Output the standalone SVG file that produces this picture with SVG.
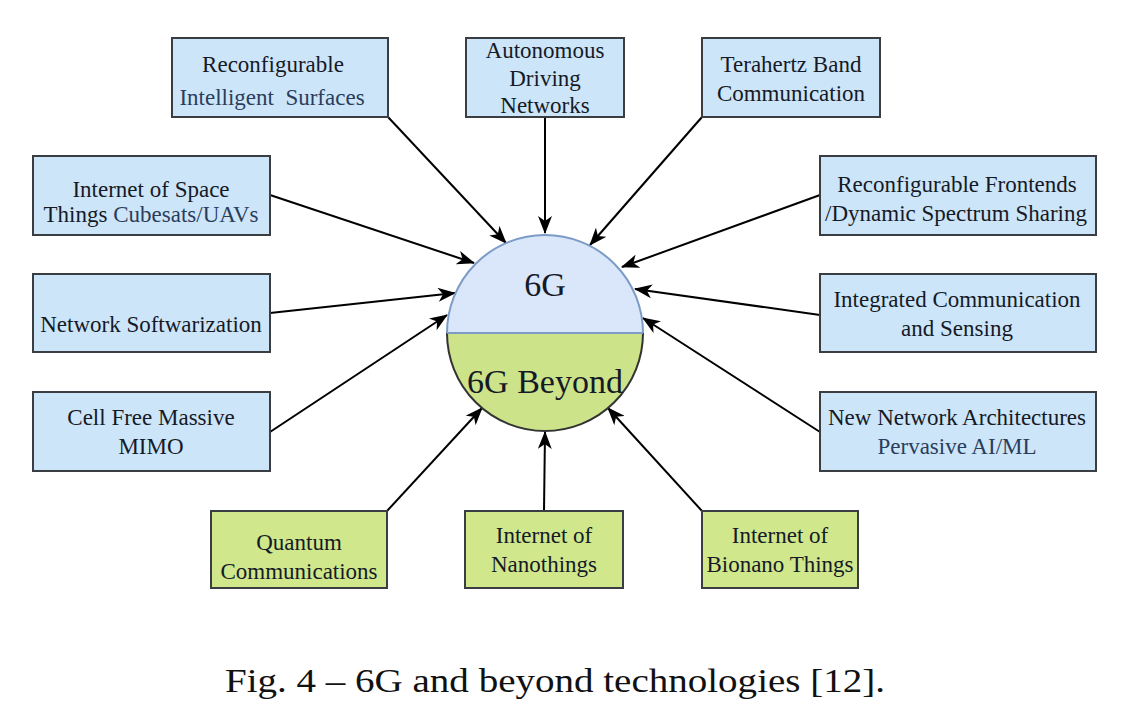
<svg xmlns="http://www.w3.org/2000/svg" width="1125" height="707" viewBox="0 0 1125 707">
<defs>
<marker id="ah" viewBox="0 0 18 14" refX="17" refY="7" markerWidth="18" markerHeight="14" markerUnits="userSpaceOnUse" orient="auto">
<path d="M0,0 L18,7 L0,14 L5,7 z" fill="#000"/>
</marker>
<style>
.b{fill:#cde5f9;stroke:#3a3d42;stroke-width:2}
.g{fill:#d0e78c;stroke:#3a3d42;stroke-width:2}
.t{font-family:"Liberation Serif","Times New Roman",serif;font-size:23px;fill:#151a26;text-anchor:middle}
.tb{fill:#2a3d5c}
.c{stroke:#000;stroke-width:2;fill:none;marker-end:url(#ah)}
</style>
</defs>
<rect width="1125" height="707" fill="#fff"/>
<g id="connectors">
<line class="c" x1="388" y1="117" x2="506" y2="243"/>
<line class="c" x1="545" y1="117" x2="545" y2="233"/>
<line class="c" x1="702" y1="117" x2="590" y2="245"/>
<line class="c" x1="820" y1="195" x2="622" y2="267"/>
<line class="c" x1="820" y1="315" x2="635" y2="289"/>
<line class="c" x1="820" y1="432" x2="643" y2="318"/>
<line class="c" x1="270" y1="195" x2="474" y2="263"/>
<line class="c" x1="270" y1="313" x2="455" y2="293"/>
<line class="c" x1="270" y1="432" x2="447" y2="315"/>
<line class="c" x1="387" y1="511" x2="482" y2="408"/>
<line class="c" x1="544" y1="511" x2="545" y2="432"/>
<line class="c" x1="702" y1="511" x2="608" y2="408"/>
</g>
<g id="center">
<path d="M447,333 A98,98 0 0 1 643,333 Z" fill="#dae6fa" stroke="#7c9bc6" stroke-width="2"/>
<path d="M447,333 A98,98 0 0 0 643,333" fill="#cde38a" stroke="#333" stroke-width="2"/>
<line x1="447" y1="333" x2="643" y2="333" stroke="#7c9bc6" stroke-width="2"/>
<text x="545" y="296" class="t" style="font-size:34px">6G</text>
<text x="545" y="393" class="t" style="font-size:34px">6G Beyond</text>
</g>
<g id="n-ris">
<rect class="b" x="172" y="38" width="216" height="79"/>
<text class="t" x="273" y="72">Reconfigurable</text>
<text class="t tb" x="272" y="105" xml:space="preserve">Intelligent  Surfaces</text>
</g>
<g id="n-adn">
<rect class="b" x="466" y="38" width="158" height="79"/>
<text class="t" x="545" y="58">Autonomous</text>
<text class="t" x="545" y="86">Driving</text>
<text class="t" x="545" y="113">Networks</text>
</g>
<g id="n-thz">
<rect class="b" x="702" y="38" width="178" height="79"/>
<text class="t" x="791" y="72">Terahertz Band</text>
<text class="t" x="791" y="101">Communication</text>
</g>
<g id="n-rf">
<rect class="b" x="820" y="156" width="276" height="79"/>
<text class="t" x="957" y="192">Reconfigurable Frontends</text>
<text class="t" x="956" y="221">/Dynamic Spectrum Sharing</text>
</g>
<g id="n-ics">
<rect class="b" x="820" y="274" width="276" height="78"/>
<text class="t" x="957" y="307">Integrated Communication</text>
<text class="t" x="957" y="336">and Sensing</text>
</g>
<g id="n-nna">
<rect class="b" x="820" y="392" width="276" height="79"/>
<text class="t" x="957" y="425">New Network Architectures</text>
<text class="t tb" x="957" y="454">Pervasive AI/ML</text>
</g>
<g id="n-iost">
<rect class="b" x="33" y="156" width="237" height="79"/>
<text class="t" x="151" y="197">Internet of Space</text>
<text class="t" x="151" y="222">Things <tspan class="tb">Cubesats/UAVs</tspan></text>
</g>
<g id="n-ns">
<rect class="b" x="33" y="274" width="237" height="78"/>
<text class="t" x="151" y="332">Network Softwarization</text>
</g>
<g id="n-cf">
<rect class="b" x="33" y="392" width="237" height="79"/>
<text class="t" x="151" y="425">Cell Free Massive</text>
<text class="t" x="151" y="454">MIMO</text>
</g>
<g id="n-qc">
<rect class="g" x="211" y="511" width="176" height="77"/>
<text class="t" x="299" y="550">Quantum</text>
<text class="t" x="299" y="579">Communications</text>
</g>
<g id="n-nano">
<rect class="g" x="465" y="511" width="158" height="77"/>
<text class="t" x="544" y="543">Internet of</text>
<text class="t" x="544" y="572">Nanothings</text>
</g>
<g id="n-bio">
<rect class="g" x="702" y="511" width="156" height="77"/>
<text class="t" x="780" y="543">Internet of</text>
<text class="t" x="780" y="572">Bionano Things</text>
</g>
<text x="555" y="692" style="font-family:'Liberation Serif','Times New Roman',serif;font-size:33px;fill:#111;text-anchor:middle" textLength="660" lengthAdjust="spacingAndGlyphs">Fig. 4 – 6G and beyond technologies [12].</text>
</svg>
